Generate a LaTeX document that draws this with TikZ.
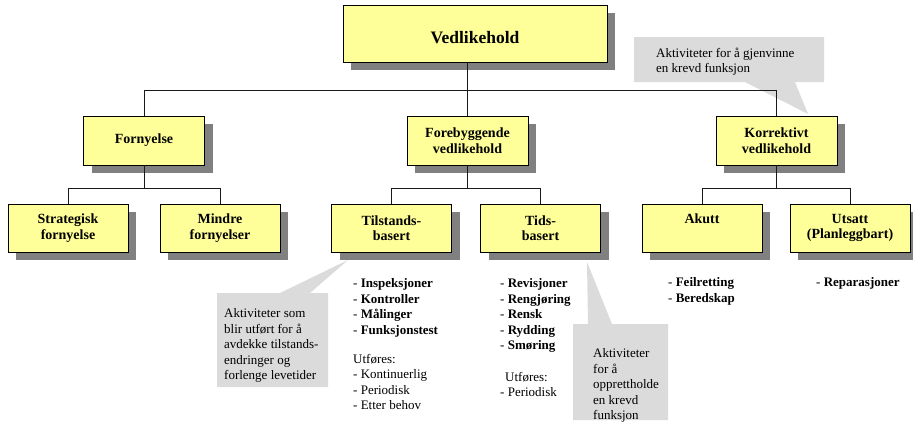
\documentclass[tikz,border=0pt]{standalone}
\usepackage{fontspec}
\setmainfont{Liberation Serif}
\usetikzlibrary{shadows}
\definecolor{boxyellow}{RGB}{255,255,153}
\definecolor{shadowgray}{RGB}{128,128,128}
\definecolor{calloutgray}{RGB}{219,219,219}
\definecolor{linecol}{RGB}{25,25,25}
\begin{document}
\begin{tikzpicture}[x=1pt,y=-1pt,
  box/.style={draw=black, line width=0.9pt, fill=boxyellow, align=center, inner sep=0pt,
    drop shadow={shadow xshift=8pt, shadow yshift=-7.5pt, fill=shadowgray, opacity=1},
    font=\bfseries\fontsize{14}{15.5}\selectfont},
  topbox/.style={box, minimum width=264pt, minimum height=57pt, font=\bfseries\fontsize{17.5}{20}\selectfont},
  lvltwo/.style={box, minimum width=121pt, minimum height=49pt},
  lvlthree/.style={box, minimum width=120pt, minimum height=48pt},
  conn/.style={draw=linecol, line width=0.9pt},
  callout/.style={fill=calloutgray, draw=none},
  callouttext/.style={anchor=north west, align=left, inner sep=0pt, font=\fontsize{13}{15.5}\selectfont},
  listtext/.style={anchor=north west, align=left, inner sep=0pt, font=\fontsize{13}{15.5}\selectfont}
]
\useasboundingbox (0,0) rectangle (913,421);

% callouts
\path[callout] (634,37) -- (824,37) -- (824,82) -- (795,82) -- (808,114) -- (745,82) -- (634,82) -- cycle;
\path[callout] (217,293) -- (280,293) -- (348,260) -- (310,293) -- (328,293) -- (328,387) -- (217,387) -- cycle;
\path[callout] (573,324) -- (588,324) -- (587,262) -- (612,324) -- (668,324) -- (668,420) -- (573,420) -- cycle;

\node[callouttext] (ctop) at (656,47.5) {Aktiviteter for å gjenvinne\\en krevd funksjon};
\node[callouttext] (cleft) at (224,308.5) {Aktiviteter som\\blir utført for å\\avdekke tilstands-\\endringer og\\forlenge levetider};
\node[callouttext] (cright) at (593,348.5) {Aktiviteter\\for å\\opprettholde\\en krevd\\funksjon};

% boxes
\node[topbox] (top) at (475,33.5) {\rule{0pt}{20pt}Vedlikehold};
\node[lvltwo] (forny) at (144,140.5) {Fornyelse};
\node[lvltwo] (fore) at (467.5,140.5) {Forebyggende\\vedlikehold};
\node[lvltwo] (korr) at (776.5,140.5) {Korrektivt\\vedlikehold};
\node[lvlthree] (strat) at (68,228) {Strategisk\\fornyelse};
\node[lvlthree] (mindre) at (220,228) {Mindre\\fornyelser};
\node[lvlthree] (tilst) at (391.5,228) {Tilstands-\\basert};
\node[lvlthree] (tids) at (540.5,228) {Tids-\\basert};
\node[lvlthree] (akutt) at (702,228) {Akutt\\\phantom{(Planleggbart)}};
\node[lvlthree] (utsatt) at (850,228) {Utsatt\\(Planleggbart)};

% connectors
\coordinate (barone) at (0,90);
\coordinate (bartwo) at (0,188);
\draw[conn] (fore.north |- top.south) -- (fore.north);
\draw[conn] (forny.north) -- (forny.north |- barone) -- (korr.north |- barone) -- (korr.north);
\draw[conn] (forny.south) -- (forny.south |- bartwo);
\draw[conn] (strat.north) -- (strat.north |- bartwo) -- (mindre.north |- bartwo) -- (mindre.north);
\draw[conn] (fore.south) -- (fore.south |- bartwo);
\draw[conn] (tilst.north) -- (tilst.north |- bartwo) -- (tids.north |- bartwo) -- (tids.north);
\draw[conn] (korr.south) -- (korr.south |- bartwo);
\draw[conn] (akutt.north) -- (akutt.north |- bartwo) -- (utsatt.north |- bartwo) -- (utsatt.north);

% lists
\node[listtext] (ltilst) at (353,278.5) {- \textbf{Inspeksjoner}\\- \textbf{Kontroller}\\- \textbf{Målinger}\\- \textbf{Funksjonstest}\\[13.5pt]Utføres:\\- Kontinuerlig\\- Periodisk\\- Etter behov};
\node[listtext] (ltids) at (500,278.5) {- \textbf{Revisjoner}\\- \textbf{Rengjøring}\\- \textbf{Rensk}\\- \textbf{Rydding}\\- \textbf{Smøring}\\[16pt]\hspace{5pt}Utføres:\\- Periodisk};
\node[listtext] (lakutt) at (668,277.5) {- \textbf{Feilretting}\\- \textbf{Beredskap}};
\node[listtext] (lutsatt) at (816,277.5) {- \textbf{Reparasjoner}};
\end{tikzpicture}
\end{document}
